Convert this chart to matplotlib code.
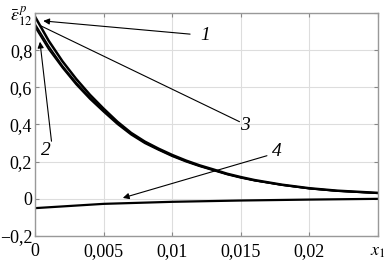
import matplotlib
matplotlib.use('Agg')
import matplotlib.pyplot as plt

# data
x = [0, 0.001, 0.002, 0.003, 0.004, 0.005, 0.006, 0.007, 0.008, 0.009,
     0.01, 0.011, 0.012, 0.013, 0.014, 0.015, 0.016, 0.018, 0.02, 0.022, 0.025]
curve1 = [0.98, 0.85, 0.74, 0.645, 0.56, 0.485, 0.415, 0.355, 0.308, 0.27,
          0.236, 0.206, 0.18, 0.158, 0.135, 0.117, 0.101, 0.076, 0.057, 0.044, 0.032]
curve2 = [0.94, 0.82, 0.715, 0.625, 0.545, 0.475, 0.408, 0.35, 0.303, 0.266,
          0.232, 0.203, 0.177, 0.155, 0.133, 0.115, 0.099, 0.075, 0.056, 0.043, 0.031]
curve3 = [0.925, 0.805, 0.705, 0.615, 0.537, 0.468, 0.402, 0.345, 0.299, 0.263,
          0.229, 0.2, 0.175, 0.153, 0.131, 0.113, 0.098, 0.074, 0.055, 0.042, 0.03]
x4 = [0, 0.005, 0.01, 0.015, 0.02, 0.025]
curve4 = [-0.05, -0.027, -0.016, -0.009, -0.004, 0.0]

xticks = [0, 0.005, 0.01, 0.015, 0.02, 0.025]
xlabels = ['0', '0,005', '0,01', '0,015', '0,02', '$x_1$']
yticks = [-0.2, 0, 0.2, 0.4, 0.6, 0.8, 1.0]
ylabels = ['\u22120,2', '0', '0,2', '0,4', '0,6', '0,8', r'$\bar{\varepsilon}^{\,p}_{12}$']

plt.rcParams['font.family'] = 'serif'
plt.rcParams['font.serif'] = ['Liberation Serif', 'DejaVu Serif']
plt.rcParams['mathtext.fontset'] = 'stix'

fig = plt.figure(figsize=(3.89, 2.64), dpi=100)
ax = fig.add_axes([0.09, 0.106, 0.882, 0.845])

ax.plot(x, curve1, color='black', lw=1.8)
ax.plot(x, curve2, color='black', lw=1.3)
ax.plot(x, curve3, color='black', lw=1.3)
ax.plot(x4, curve4, color='black', lw=1.6)

ax.set_xlim(0, 0.025)
ax.set_ylim(-0.2, 1.0)
ax.set_xticks(xticks)
ax.set_xticklabels(xlabels)
ax.set_yticks(yticks)
ax.set_yticklabels(ylabels)
ax.tick_params(direction='in', length=3, labelsize=13, color='#888888',
               top=True, right=True)
ax.tick_params(axis='y', pad=2)
ax.tick_params(axis='x', pad=5)
ax.grid(True, color='#dddddd', lw=0.8)
for s in ax.spines.values():
    s.set_color('#999999')
    s.set_linewidth(1.0)

arr = dict(arrowstyle='-|>', lw=0.8, color='black', mutation_scale=9,
           shrinkA=0, shrinkB=0)
line = dict(arrowstyle='-', lw=0.8, color='black', shrinkA=0, shrinkB=0)
txt = dict(fontsize=14, style='italic', ha='center', va='center')

ax.annotate('', xy=(0.0006, 0.957), xytext=(0.0113, 0.886), arrowprops=arr)
ax.text(0.0124, 0.876, '1', **txt)
ax.annotate('', xy=(0.00036, 0.845), xytext=(0.0012, 0.31), arrowprops=arr)
ax.text(0.0008, 0.26, '2', **txt)
ax.annotate('', xy=(0.00044, 0.93), xytext=(0.0149, 0.415), arrowprops=line)
ax.text(0.0153, 0.395, '3', **txt)
ax.annotate('', xy=(0.0064, 0.005), xytext=(0.0169, 0.232), arrowprops=arr)
ax.text(0.0176, 0.252, '4', **txt)

fig.savefig('out.png', dpi=100)
